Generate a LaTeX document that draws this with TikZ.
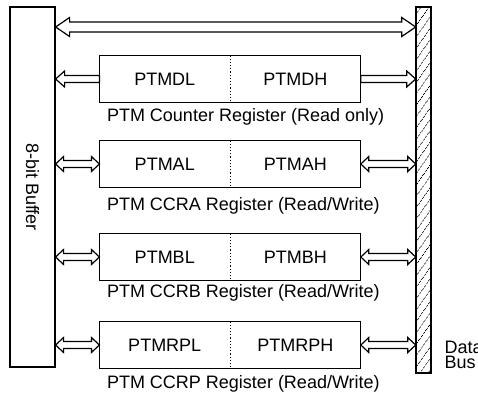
\documentclass[tikz,border=0pt]{standalone}
\usepackage{fontspec}
\setmainfont{Liberation Sans}
\usetikzlibrary{positioning,calc,patterns.meta}

\tikzset{
  half/.style={minimum width=129.5pt, minimum height=46pt, inner sep=0pt},
  reglabel/.style={anchor=west, inner sep=0pt},
  % hollow bus arrow, head at the target: shaft half width, head half width, head length
  pipe/.style n args={3}{fill=white, to path={let \p1=(\tikztostart), \p2=(\tikztotarget), \n1={sign(\x2-\x1)} in
    (\x1,\y2+#1) -- (\x2-\n1*#3,\y2+#1) -- (\x2-\n1*#3,\y2+#2) -- (\x2,\y2)
    -- (\x2-\n1*#3,\y2-#2) -- (\x2-\n1*#3,\y2-#1) -- (\x1,\y2-#1) -- cycle}},
  % hollow bus arrow with a head at both ends
  pipes/.style n args={3}{fill=white, to path={let \p1=(\tikztostart), \p2=(\tikztotarget), \n1={sign(\x2-\x1)} in
    (\x1,\y2) -- (\x1+\n1*#3,\y2+#2) -- (\x1+\n1*#3,\y2+#1) -- (\x2-\n1*#3,\y2+#1) -- (\x2-\n1*#3,\y2+#2) -- (\x2,\y2)
    -- (\x2-\n1*#3,\y2-#2) -- (\x2-\n1*#3,\y2-#1) -- (\x1+\n1*#3,\y2-#1) -- (\x1+\n1*#3,\y2-#2) -- cycle}}
}

\begin{document}
\begin{tikzpicture}[x=1pt, y=-1pt, line width=1.2pt,
                    every node/.style={font=\fontsize{18}{15}\selectfont}]
\useasboundingbox (0,0) rectangle (478,394);

\node [draw, minimum width=45pt, minimum height=360pt, inner sep=0pt,
       label={[rotate=-90]center:8-bit Buffer}] (buf) at (32.5,187) {};
\node [draw, minimum width=15pt, minimum height=366pt, inner sep=0pt,
       pattern={Lines[angle=55,distance=6.5pt,line width=0.6pt]}] (bus) at (423.5,190) {};
\node [anchor=north west, align=left, inner sep=0pt] (data) at (444,341) {Data\\Bus};
%
\node [half] (dl) at (164.75,79) {PTMDL};
\node [half, right=0pt of dl] (dh) {PTMDH};
\node [half] (al) at (164.75,164) {PTMAL};
\node [half, right=0pt of al] (ah) {PTMAH};
\node [half] (bl) at (164.75,257) {PTMBL};
\node [half, right=0pt of bl] (bh) {PTMBH};
\node [half] (rpl) at (164.75,345) {PTMRPL};
\node [half, right=0pt of rpl] (rph) {PTMRPH};
%
\draw (dl.north west) rectangle (dh.south east);
\draw (al.north west) rectangle (ah.south east);
\draw (bl.north west) rectangle (bh.south east);
\draw (rpl.north west) rectangle (rph.south east);
\draw [dotted] (dl.north east) -- (dl.south east);
\draw [dotted] (al.north east) -- (al.south east);
\draw [dotted] (bl.north east) -- (bl.south east);
\draw [dotted] (rpl.north east) -- (rpl.south east);
%
\node [reglabel] (dlab) at ($(dl.south west)+(7,14)$) {PTM Counter Register (Read only)};
\node [reglabel] (alab) at ($(al.south west)+(7,18)$) {PTM CCRA Register (Read/Write)};
\node [reglabel] (blab) at ($(bl.south west)+(7,12)$) {PTM CCRB Register (Read/Write)};
\node [reglabel] (rplab) at ($(rpl.south west)+(7,15)$) {PTM CCRP Register (Read/Write)};
%
\coordinate (top) at (0,27);
\draw [pipes={5pt}{9.5pt}{14pt}] (buf.east |- top) to (bus.west |- top);
\draw [pipe={3.5pt}{8pt}{9pt}] (dl.west) to (buf.east |- dl.west);
\draw [pipe={3.5pt}{8pt}{9pt}] (dh.east) to (bus.west |- dh.east);
\draw [pipes={3.5pt}{7.5pt}{8pt}] (buf.east |- al.west) to (al.west);
\draw [pipes={3.5pt}{7.5pt}{8pt}] (ah.east) to (bus.west |- ah.east);
\draw [pipes={3.5pt}{7.5pt}{8pt}] (buf.east |- bl.west) to (bl.west);
\draw [pipes={3.5pt}{7.5pt}{8pt}] (bh.east) to (bus.west |- bh.east);
\draw [pipes={3.5pt}{7.5pt}{8pt}] (buf.east |- rpl.west) to (rpl.west);
\draw [pipes={3.5pt}{7.5pt}{8pt}] (rph.east) to (bus.west |- rph.east);
\end{tikzpicture}
\end{document}
